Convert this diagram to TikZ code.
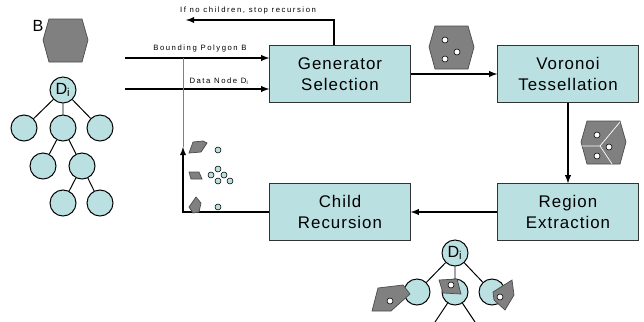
\documentclass[tikz,border=0pt]{standalone}
\usepackage{fontspec}
\setmainfont{Liberation Sans}
\newfontfamily\boxfont[LetterSpace=6]{Liberation Sans}
\newfontfamily\lblfont[LetterSpace=20]{Liberation Sans}
\usetikzlibrary{arrows,calc,positioning}
\definecolor{boxcyan}{RGB}{186,224,226}
\definecolor{hexgray}{RGB}{128,128,128}
\tikzstyle{Box} = [rectangle, draw=black!80, fill=boxcyan, minimum width=3.52cm, minimum height=1.42cm, align=center, font=\boxfont\fontsize{12}{15}\selectfont]
\tikzstyle{arrow} = [line width=1pt, ->, >=latex]
\tikzstyle{Leaf} = [circle, draw=black, fill=boxcyan, minimum size=0.65cm, inner sep=0pt, line width=0.7pt, font=\fontsize{11.5}{12}\selectfont]
\tikzstyle{Label} = [font=\lblfont\fontsize{5.5}{6.5}\selectfont, inner sep=0pt]
\tikzstyle{Piece} = [fill=hexgray, draw=black!70, line width=0.5pt]
\tikzstyle{Seed} = [fill=white, draw=black, line width=0.4pt]
\tikzstyle{Dot} = [fill=boxcyan, draw=black, line width=0.4pt]
\tikzstyle{Twig} = [line width=0.7pt]
\tikzset{hexa/.pic={\path[Piece] (6,0) -- (39,0) -- (45,21) -- (39,43) -- (6,43) -- (0,21) -- cycle;}}

\begin{document}
\begin{tikzpicture}[x=0.025cm, y=-0.025cm]
\useasboundingbox (0,0) rectangle (644,322);

% the four stages
\node (Gen)[Box] at (340,74) {Generator\\Selection};
\node (Vor)[Box] at (568,74) {Voronoi\\Tessellation};
\node (Reg)[Box] at (568,212) {Region\\Extraction};
\node (Child)[Box] at (340,212) {Child\\Recursion};

% inputs
\node (B label) at (38,26) {\fontsize{11.5}{12}\selectfont B};
\pic at (43,19) {hexa};

\node (Root)[Leaf] at (63,90) {D\textsubscript{i}};
\node (C1)[Leaf] at (24,128) {};
\node (C2)[Leaf] at (63,128) {};
\node (C3)[Leaf] at (100,128) {};
\node (G1)[Leaf] at (43,166) {};
\node (G2)[Leaf] at (82,166) {};
\node (H1)[Leaf] at (63,203) {};
\node (H2)[Leaf] at (100,203) {};
\draw[Twig] (Root)--(C1) (Root)--(C2) (Root)--(C3);
\draw[Twig] (C2)--(G1) (C2)--(G2);
\draw[Twig] (G2)--(H1) (G2)--(H2);

\coordinate (In B) at (125,58);
\coordinate (In D) at (125,89);
\coordinate (Stop) at (186,20);
\coordinate (Up) at (183,147);
\coordinate (Top) at (183,58);

\draw[arrow](In B)--(Gen.west |- In B);
\draw[arrow](In D)--(Gen.west |- In D);
\node (B text)[Label] at (200,48) {Bounding Polygon B};
\node (D text)[Label] at (219,81) {Data Node D\textsubscript{i}};

\draw[arrow]([xshift=-0.15cm]Gen.north) |- (Stop);
\node (Stop text)[Label] at (248,11) {If no children, stop recursion};

% main loop
\draw[arrow](Gen.east)--(Vor.west);
\draw[arrow](Vor.south)--(Reg.north);
\draw[arrow](Reg.west)--(Child.east);
\draw[arrow](Child.west)-|(Up);
\draw[gray, line width=0.6pt](Up)--(Top);

% generators icon
\pic at (429,26) {hexa};
\draw[Seed] (445,40) circle (3) (457,52) circle (3) (445,59) circle (3);

% tessellation icon
\pic at (581,121) {hexa};
\draw[white, line width=0.5pt] (600,146)--(620,122) (600,146)--(582,146) (600,146)--(612,164);
\draw[Seed] (597,135) circle (3) (609,147) circle (3) (597,156) circle (3);

% child pieces
\path[Piece] (189,153)--(193,142)--(203,141)--(207,143)--(201,152)--cycle;
\draw[Dot] (218,150) circle (3);
\path[Piece] (189,172)--(199,172)--(202,179)--(191,179)--cycle;
\draw[Dot] (218,169) circle (3) (211,175) circle (3) (224,175) circle (3) (218,181) circle (3) (230,181) circle (3);
\path[Piece] (189,207)--(196,197)--(201,203)--(199,212)--(193,213)--cycle;
\draw[Dot] (218,207) circle (3);

% extracted regions
\node (Sub Root)[Leaf] at (455,253) {D\textsubscript{i}};
\node (Sub L)[Leaf] at (417,292) {};
\node (Sub M)[Leaf] at (455,292) {};
\node (Sub R)[Leaf] at (492,292) {};
\coordinate (Leg L) at (435,322);
\coordinate (Leg R) at (475,322);
\draw[Twig] (Sub Root)--(Sub L) (Sub Root)--(Sub M) (Sub Root)--(Sub R);
\draw[Twig] (Sub M)--(Leg L) (Sub M)--(Leg R);
\path[Piece] (372,311)--(378,288)--(403,285)--(410,294)--(391,311)--cycle;
\draw[Seed] (390,301) circle (3);
\path[Piece] (439,280)--(457,279)--(461,294)--(443,293)--cycle;
\draw[Seed] (451,285) circle (3);
\path[Piece] (493,292)--(512,280)--(514,295)--(505,310)--(494,300)--cycle;
\draw[Seed] (500,297) circle (3);

\end{tikzpicture}
\end{document}
